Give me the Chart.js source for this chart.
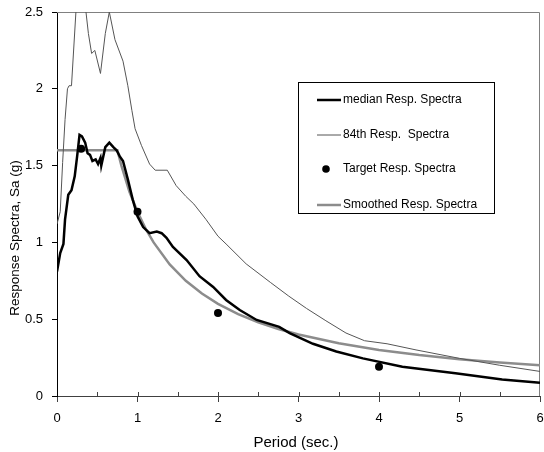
<!DOCTYPE html>
<html>
<head>
<meta charset="utf-8">
<script src="https://cdn.jsdelivr.net/npm/chart.js@4.4.1/dist/chart.umd.min.js"></script>
<style>
    html, body { margin: 0; padding: 0; background: #fff; }
    #wrap { width: 544px; height: 452px; }
</style>
</head>
<body>
<div id="wrap"><canvas id="chart" width="544" height="452"></canvas></div>
<script>
// --- DATA ---
const medianT  = [0, 0.04, 0.08, 0.10, 0.14, 0.18, 0.22, 0.25, 0.28, 0.31, 0.35, 0.38, 0.41, 0.44, 0.48, 0.51, 0.54, 0.55, 0.60, 0.65, 0.70, 0.74, 0.78, 0.82, 0.88, 0.94, 1.00, 1.07, 1.15, 1.24, 1.30, 1.36, 1.44, 1.61, 1.77, 1.94, 2.10, 2.27, 2.48, 2.76, 2.89, 3.18, 3.47, 3.80, 4.29, 4.95, 5.53, 6.00];
const medianSa = [0.81, 0.93, 0.99, 1.15, 1.31, 1.34, 1.43, 1.56, 1.70, 1.69, 1.65, 1.58, 1.57, 1.53, 1.54, 1.51, 1.55, 1.50, 1.62, 1.65, 1.62, 1.60, 1.56, 1.53, 1.41, 1.28, 1.17, 1.10, 1.06, 1.07, 1.06, 1.03, 0.97, 0.885, 0.78, 0.71, 0.625, 0.56, 0.495, 0.45, 0.41, 0.34, 0.29, 0.245, 0.19, 0.148, 0.108, 0.087];

const p84T  = [0, 0.04, 0.07, 0.10, 0.13, 0.15, 0.18, 0.235, 0.27, 0.33, 0.36, 0.39, 0.43, 0.47, 0.54, 0.60, 0.65, 0.72, 0.82, 0.88, 0.93, 0.97, 1.05, 1.15, 1.22, 1.37, 1.48, 1.60, 1.70, 1.85, 2.00, 2.10, 2.35, 2.65, 2.88, 3.10, 3.34, 3.59, 3.82, 4.10, 4.46, 5.00, 5.50, 6.00];
const p84Sa = [1.12, 1.20, 1.52, 1.80, 2.00, 2.02, 2.02, 2.50, 2.80, 2.64, 2.50, 2.36, 2.23, 2.25, 2.10, 2.36, 2.50, 2.32, 2.18, 2.02, 1.86, 1.74, 1.63, 1.51, 1.47, 1.47, 1.37, 1.30, 1.25, 1.15, 1.04, 0.99, 0.86, 0.74, 0.65, 0.57, 0.49, 0.41, 0.36, 0.34, 0.30, 0.245, 0.20, 0.16];

const targetT  = [0.3, 1.0, 2.0, 4.0];
const targetSa = [1.61, 1.20, 0.54, 0.19];

const smoothT  = [0, 0.75, 0.80, 0.90, 1.00, 1.10, 1.20, 1.40, 1.60, 1.80, 2.00, 2.25, 2.50, 2.75, 3.00, 3.50, 4.00, 4.50, 5.00, 5.50, 6.00];
const smoothSa = [1.60, 1.60, 1.50, 1.33, 1.20, 1.09, 1.00, 0.857, 0.75, 0.667, 0.60, 0.533, 0.48, 0.436, 0.40, 0.343, 0.30, 0.267, 0.24, 0.218, 0.20];

const xTicks = [0, 1, 2, 3, 4, 5, 6];
const yTicks = [0, 0.5, 1, 1.5, 2, 2.5];

const xTitle = 'Period (sec.)';
const yTitle = 'Response Spectra, Sa (g)';

const toPoints = (xs, ys) => xs.map((x, i) => ({ x: x, y: ys[i] }));

const FONT = '"Liberation Sans", Arial, sans-serif';

// grey frame on top/right, inner half ticks on x axis, axis titles
const framePlugin = {
    id: 'frame',
    beforeDatasetsDraw(chart) {
        const { ctx, chartArea: a, scales } = chart;
        ctx.save();
        ctx.strokeStyle = '#808080';
        ctx.lineWidth = 1;
        ctx.beginPath();
        ctx.moveTo(a.left, a.top + 0.5);
        ctx.lineTo(a.right - 0.5, a.top + 0.5);
        ctx.lineTo(a.right - 0.5, a.bottom);
        ctx.stroke();
        ctx.strokeStyle = '#404040';
        ctx.beginPath();
        for (let v = 0.5; v < 6; v += 0.5) {
            const px = Math.round(scales.x.getPixelForValue(v)) + 0.5;
            ctx.moveTo(px, a.bottom);
            ctx.lineTo(px, a.bottom - 4);
        }
        ctx.stroke();

        ctx.fillStyle = '#000';
        ctx.textAlign = 'center';
        ctx.textBaseline = 'middle';
        ctx.font = '15px ' + FONT;
        ctx.fillText(xTitle, 296, 443);
        ctx.translate(15, 238);
        ctx.rotate(-Math.PI / 2);
        ctx.font = '13.5px ' + FONT;
        ctx.fillText(yTitle, 0, 0);
        ctx.restore();
    }
};

// legend box drawn inside the plot
const boxLegend = {
    id: 'boxLegend',
    afterDraw(chart) {
        const { ctx, chartArea: a } = chart;
        const left = a.left + 241, top = a.top + 70, w = 196, h = 131;
        ctx.save();
        ctx.fillStyle = '#fff';
        ctx.fillRect(left, top, w, h);
        ctx.strokeStyle = '#000';
        ctx.lineWidth = 1;
        ctx.strokeRect(left + 0.5, top + 0.5, w, h);
        ctx.font = '12px ' + FONT;
        ctx.textBaseline = 'middle';
        const rows = [18, 53, 87, 123];
        chart.data.datasets.forEach((ds, i) => {
            const y = top + rows[i];
            if (ds.showLine === false) {
                ctx.beginPath();
                ctx.arc(left + 28, y, 3.8, 0, Math.PI * 2);
                ctx.fillStyle = ds.pointBackgroundColor;
                ctx.fill();
            } else {
                ctx.beginPath();
                ctx.strokeStyle = ds.borderColor;
                ctx.lineWidth = ds.borderWidth;
                ctx.moveTo(left + 19, y);
                ctx.lineTo(left + 43, y);
                ctx.stroke();
            }
            ctx.fillStyle = '#000';
            ctx.fillText(ds.label, left + 45, y);
        });
        ctx.restore();
    }
};

new Chart(document.getElementById('chart'), {
    type: 'line',
    data: {
        datasets: [
            {
                label: 'median Resp. Spectra',
                data: toPoints(medianT, medianSa),
                borderColor: '#000',
                borderWidth: 2.5,
                pointRadius: 0,
                tension: 0
            },
            {
                label: '84th Resp.  Spectra',
                data: toPoints(p84T, p84Sa),
                borderColor: '#555',
                borderWidth: 1,
                pointRadius: 0,
                tension: 0
            },
            {
                label: 'Target Resp. Spectra',
                data: toPoints(targetT, targetSa),
                showLine: false,
                pointRadius: 4,
                pointBackgroundColor: '#000',
                pointBorderColor: '#000',
                pointBorderWidth: 0
            },
            {
                label: 'Smoothed Resp. Spectra',
                data: toPoints(smoothT, smoothSa),
                borderColor: '#8c8c8c',
                borderWidth: 2.5,
                pointRadius: 0,
                tension: 0
            }
        ]
    },
    options: {
        responsive: false,
        animation: false,
        layout: { padding: { top: 12, right: 3, left: 0, bottom: 0 } },
        plugins: {
            legend: { display: false },
            tooltip: { enabled: false }
        },
        scales: {
            x: {
                type: 'linear',
                min: 0,
                max: 6,
                afterFit: s => { s.height = 56; s.paddingLeft = 0; s.paddingRight = 0; },
                afterBuildTicks: s => { s.ticks = xTicks.map(v => ({ value: v })); },
                ticks: {
                    font: { family: FONT, size: 13 },
                    color: '#000',
                    padding: 9,
                    maxRotation: 0,
                    callback: v => String(v)
                },
                grid: {
                    drawOnChartArea: false,
                    drawTicks: true,
                    tickLength: 6,
                    color: '#404040'
                },
                border: { color: '#404040', width: 1 }
            },
            y: {
                type: 'linear',
                min: 0,
                max: 2.5,
                afterFit: s => { s.width = 57; s.paddingTop = 0; s.paddingBottom = 0; },
                afterBuildTicks: s => { s.ticks = yTicks.map(v => ({ value: v })); },
                ticks: {
                    font: { family: FONT, size: 13 },
                    color: '#000',
                    padding: 9,
                    callback: v => String(v)
                },
                grid: {
                    drawOnChartArea: false,
                    drawTicks: true,
                    tickLength: 5,
                    color: '#000'
                },
                border: { color: '#000', width: 1 }
            }
        }
    },
    plugins: [framePlugin, boxLegend]
});
</script>
</body>
</html>
